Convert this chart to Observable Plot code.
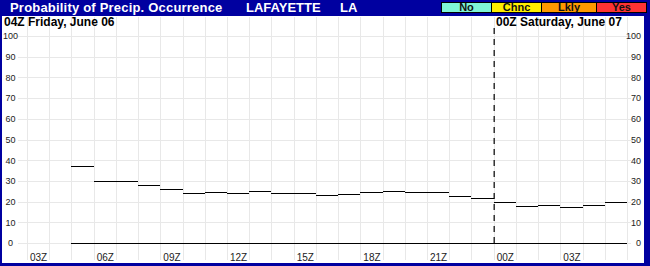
<!DOCTYPE html>
<html><head><meta charset="utf-8">
<script src="https://cdn.jsdelivr.net/npm/d3@7"></script>
<script src="https://cdn.jsdelivr.net/npm/@observablehq/plot@0.6"></script>
<style>
body{margin:0;background:#fff;}
#frame{position:relative;width:650px;height:266px;background:#0000A0;overflow:hidden;font-family:"Liberation Sans",Arial,sans-serif;}
#chart{position:absolute;left:2px;top:16px;width:642px;height:247px;background:#fff;}
.hdr{position:absolute;color:#fff;font-weight:bold;font-size:13px;top:0px;line-height:16px;white-space:nowrap;}
.leg{position:absolute;top:2px;height:11px;box-sizing:border-box;border:1px solid #000;font-size:11px;font-weight:bold;line-height:9px;text-align:center;color:#111;}
.date{position:absolute;top:16px;font-size:12px;font-weight:bold;color:#000;line-height:12px;white-space:nowrap;z-index:2;}
</style></head>
<body>
<div id="frame">
  <div id="chart"></div>
  <div class="hdr" style="left:10px;letter-spacing:0.2px">Probability of Precip. Occurrence</div>
  <div class="hdr" style="left:246px">LAFAYETTE</div>
  <div class="hdr" style="left:340px">LA</div>
  <div id="legend"></div>
  <div class="date" style="left:4px">04Z Friday, June 06</div>
  <div class="date" style="left:496px">00Z Saturday, June 07</div>
</div>
<script>
// ---- data ----
const legendLabels = ["No", "Chnc", "Lkly", "Yes"];
const legendColors = ["#7ff5d6", "#ffee00", "#ff9900", "#ff3333"];
const yTicks = [0, 10, 20, 30, 40, 50, 60, 70, 80, 90, 100];
const xTickCols = [0, 3, 6, 9, 12, 15, 18, 21, 24];
const xTickLabels = ["03Z", "06Z", "09Z", "12Z", "15Z", "18Z", "21Z", "00Z", "03Z"];
const nCols = 27;          // hourly columns 03Z .. 05Z next day
const dayBreakCol = 21;    // 00Z Saturday
const popCols = [2, 3, 4, 5, 6, 7, 8, 9, 10, 11, 12, 13, 14, 15, 16, 17, 18, 19, 20, 21, 22, 23, 24, 25, 26];
const popValues = [37, 30, 30, 28, 26, 24, 24.5, 24, 25, 24, 24, 23, 23.5, 24.5, 25, 24.5, 24.5, 22.5, 21.5, 20, 18, 18.5, 17.5, 18.5, 20];

// ---- legend boxes ----
const legendX = [441, 491, 541, 596];
const legendW = [51, 51, 56, 51];
const legend = document.getElementById("legend");
legendLabels.forEach((lab, i) => {
  const d = document.createElement("div");
  d.className = "leg";
  d.style.left = legendX[i] + "px";
  d.style.width = legendW[i] + "px";
  d.style.background = legendColors[i];
  d.textContent = lab;
  legend.appendChild(d);
});

// ---- chart ----
const data = popCols.map((c, i) => ({c, v: popValues[i]}));
const tickLabelMap = new Map(xTickCols.map((c, i) => [c + 0.5, xTickLabels[i]]));
const grid = "#e8e8e8";

const chart = Plot.plot({
  width: 642, height: 247,
  marginLeft: 25, marginRight: 17, marginTop: 20, marginBottom: 20,
  x: {domain: [0, nCols], label: null},
  y: {domain: [0, 100], label: null},
  style: {fontFamily: "'Liberation Sans', Arial, sans-serif", fontSize: "9px", background: "#fff", overflow: "visible"},
  marks: [
    Plot.ruleY(yTicks, {x1: -0.4, x2: nCols + 0.2, stroke: grid, shapeRendering: "crispEdges"}),
    Plot.ruleX(d3.range(0, nCols + 1), {y1: -8.1, y2: 109.3, stroke: grid, shapeRendering: "crispEdges"}),
    Plot.axisY(yTicks, {anchor: "left", tickSize: 0, tickPadding: 17, textAnchor: "middle", fill: "#222"}),
    Plot.axisY(yTicks, {anchor: "right", tickSize: 0, tickPadding: 13.5, textAnchor: "end", fill: "#222"}),
    Plot.axisX(xTickCols.map(c => c + 0.5), {anchor: "bottom", tickSize: 0, tickPadding: 10, fontSize: 10, fill: "#222", tickFormat: d => tickLabelMap.get(d)}),
    Plot.ruleY([0], {x1: d3.min(popCols), x2: d3.max(popCols) + 1, stroke: "#000", shapeRendering: "crispEdges"}),
    Plot.ruleX([dayBreakCol], {y1: 0, y2: 105, stroke: "#000", strokeWidth: 1.2, strokeDasharray: "6,5"}),
    Plot.ruleY(data, {y: "v", x1: "c", x2: d => d.c + 1, stroke: "#000", shapeRendering: "crispEdges"})
  ]
});
document.getElementById("chart").appendChild(chart);
</script>
</body></html>
